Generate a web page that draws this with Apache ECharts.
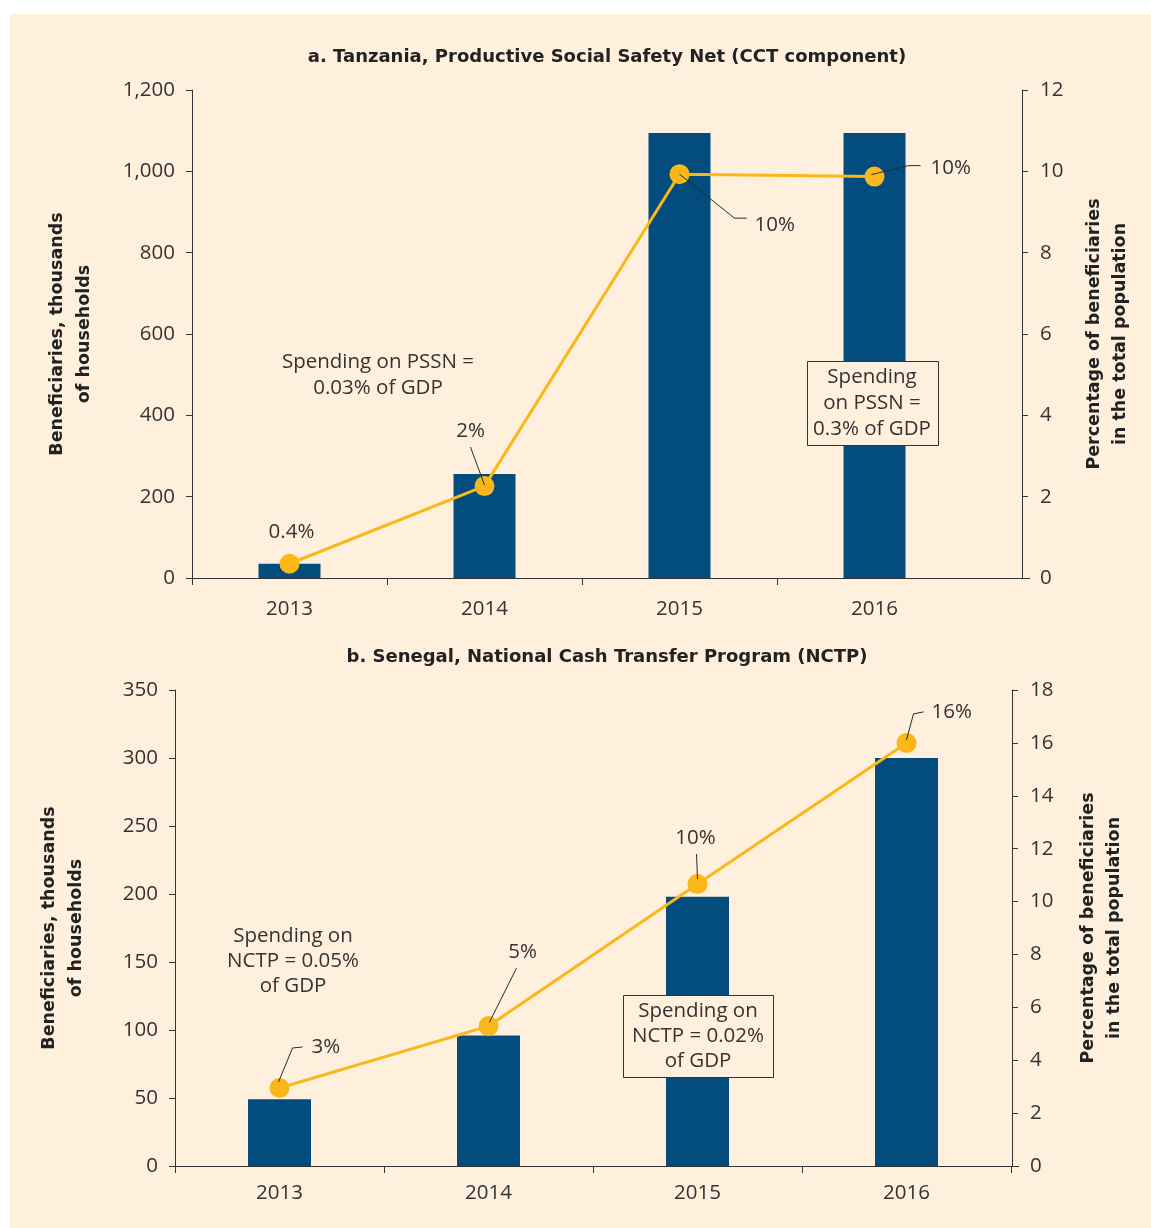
<!DOCTYPE html>
<html>
<head>
<meta charset="utf-8">
<script src="https://cdn.jsdelivr.net/npm/echarts@6/dist/echarts.min.js"></script>
<style>
  html, body { margin: 0; padding: 0; background: #ffffff; }
  #chart { position: absolute; left: 10px; top: 14px; width: 1141px; height: 1214px; }
</style>
</head>
<body>
<div id="chart"></div>
<script>
// data
const years = ['2013', '2014', '2015', '2016'];

const tzHouseholds = [35, 256, 1094, 1094];     // thousands of households
const tzShare = [0.35, 2.26, 9.93, 9.87];        // % of population
const tzShareText = ['0.4%', '2%', '10%', '10%'];

const snHouseholds = [49, 96, 198, 300];
const snShare = [2.95, 5.29, 10.66, 16.0];
const snShareText = ['3%', '5%', '10%', '16%'];

const tzLeftTicks = [0, 1200, 200];   // min, max, step
const tzRightTicks = [0, 12, 2];
const snLeftTicks = [0, 350, 50];
const snRightTicks = [0, 18, 2];

// styles
const BG = '#fef0dc';
const BLUE = '#024c7e';
const GOLD = '#fab719';
const INK = '#333333';
const FONT = '"Open Sans", sans-serif';
const BOLD = '"DejaVu Sans", sans-serif';
const FS = 20.5;

// leader line + label layout, offsets in px from the dot centre
const tzLayout = [
  { text: [2, -32], align: 'center' },
  { path: [[0, -1], [-14, -39]], text: [-14, -55], align: 'center' },
  { path: [[0, 0], [55, 44], [67, 44]], text: [75, 51], align: 'left' },
  { path: [[-3, -2], [34, -11], [46, -11]], text: [56, -8], align: 'left' }
];
const snLayout = [
  { path: [[-1, -6], [13, -40], [23, -41]], text: [32, -41], align: 'left' },
  { path: [[1, -4], [28, -58]], text: [34, -74], align: 'center' },
  { path: [[-1, -30], [0, -5]], text: [-2, -46], align: 'center' },
  { path: [[0, -3], [7, -29], [17, -31]], text: [25, -31], align: 'left' }
];

const chart = echarts.init(document.getElementById('chart'));

function leftAxis(grid, t, gap, margin) {
  return {
    type: 'value', gridIndex: grid, position: 'left',
    min: t[0], max: t[1], interval: t[2],
    name: 'Beneficiaries, thousands\nof households',
    nameLocation: 'middle', nameGap: gap,
    nameTextStyle: { fontFamily: BOLD, fontWeight: 'bold', fontSize: 17.5, lineHeight: 27, color: '#222' },
    splitLine: { show: false },
    axisLine: { show: true, lineStyle: { color: INK, width: 1 } },
    axisTick: { show: true, length: 6, lineStyle: { color: INK } },
    axisLabel: {
      margin: margin, color: INK, fontFamily: FONT, fontSize: FS,
      formatter: v => v.toLocaleString('en-US')
    }
  };
}

function rightAxis(grid, t, gap, offset) {
  return {
    type: 'value', gridIndex: grid, position: 'right', offset: offset,
    min: t[0], max: t[1], interval: t[2],
    name: 'Percentage of beneficiaries\nin the total population',
    nameLocation: 'middle', nameGap: gap,
    nameTextStyle: { fontFamily: BOLD, fontWeight: 'bold', fontSize: 17.5, lineHeight: 26, color: '#222' },
    splitLine: { show: false },
    axisLine: { show: true, lineStyle: { color: INK, width: 1 } },
    axisTick: { show: true, length: 6, lineStyle: { color: INK } },
    axisLabel: { margin: 18, color: INK, fontFamily: FONT, fontSize: FS }
  };
}

function catAxis(grid, margin) {
  return {
    type: 'category', gridIndex: grid, data: years, boundaryGap: true,
    axisLine: { show: true, lineStyle: { color: INK, width: 1 } },
    axisTick: { show: true, length: 7, lineStyle: { color: INK } },
    axisLabel: { margin: margin, color: INK, fontFamily: FONT, fontSize: FS }
  };
}

function leaderSeries(axisIdx, values, texts, layout) {
  return {
    type: 'custom', xAxisIndex: axisIdx, yAxisIndex: axisIdx * 2 + 1, z: 6,
    silent: true,
    data: values.map((v, i) => [i, v]),
    renderItem(params, api) {
      const i = params.dataIndex;
      const p = api.coord([api.value(0), api.value(1)]);
      const L = layout[i];
      const kids = [];
      if (L.path) {
        kids.push({
          type: 'polyline',
          shape: { points: L.path.map(d => [p[0] + d[0], p[1] + d[1]]) },
          style: { stroke: '#2a2a2a', lineWidth: 1, fill: null }
        });
      }
      kids.push({
        type: 'text', x: p[0] + L.text[0], y: p[1] + L.text[1],
        style: {
          text: texts[i], fill: INK, font: FS + 'px ' + FONT,
          align: L.align, verticalAlign: 'middle'
        }
      });
      return { type: 'group', children: kids };
    }
  };
}

function noteText(x, y, text, lh) {
  return {
    type: 'text', x: x, y: y, z: 100,
    style: { text: text, fill: INK, font: FS + 'px ' + FONT, align: 'center', verticalAlign: 'middle', lineHeight: lh }
  };
}

chart.setOption({
  backgroundColor: BG,
  animation: false,
  grid: [
    { left: 182, top: 76, width: 780, height: 488 },
    { left: 165, top: 676, width: 836, height: 476 }
  ],
  xAxis: [catAxis(0, 21), catAxis(1, 17)],
  yAxis: [
    leftAxis(0, tzLeftTicks, 94, 17),
    rightAxis(0, tzRightTicks, 59, 50),
    leftAxis(1, snLeftTicks, 85, 17),
    rightAxis(1, snRightTicks, 63, 1)
  ],
  series: [
    { type: 'bar', xAxisIndex: 0, yAxisIndex: 0, data: tzHouseholds, barWidth: 62, itemStyle: { color: BLUE } },
    {
      type: 'line', xAxisIndex: 0, yAxisIndex: 1, data: tzShare, z: 4,
      symbol: 'circle', symbolSize: 20, showAllSymbol: true,
      lineStyle: { color: GOLD, width: 3 }, itemStyle: { color: GOLD }
    },
    leaderSeries(0, tzShare, tzShareText, tzLayout),
    { type: 'bar', xAxisIndex: 1, yAxisIndex: 2, data: snHouseholds, barWidth: 63, itemStyle: { color: BLUE } },
    {
      type: 'line', xAxisIndex: 1, yAxisIndex: 3, data: snShare, z: 4,
      symbol: 'circle', symbolSize: 20, showAllSymbol: true,
      lineStyle: { color: GOLD, width: 3 }, itemStyle: { color: GOLD }
    },
    leaderSeries(1, snShare, snShareText, snLayout)
  ],
  graphic: [
    {
      type: 'text', x: 597, y: 43, z: 100,
      style: { text: 'a. Tanzania, Productive Social Safety Net (CCT component)', fill: '#222', font: 'bold 18px ' + BOLD, align: 'center', verticalAlign: 'middle' }
    },
    {
      type: 'text', x: 597, y: 643, z: 100,
      style: { text: 'b. Senegal, National Cash Transfer Program (NCTP)', fill: '#222', font: 'bold 18px ' + BOLD, align: 'center', verticalAlign: 'middle' }
    },
    // x-axis line of panel a runs on to the offset right axis (no tick at the grid edge)
    { type: 'rect', z: 99, shape: { x: 959, y: 565, width: 6, height: 9 }, style: { fill: BG } },
    { type: 'line', z: 100, shape: { x1: 962, y1: 564.5, x2: 1020, y2: 564.5 }, style: { stroke: INK, lineWidth: 1 } },
    { type: 'line', z: 100, shape: { x1: 1001, y1: 1152.5, x2: 1009, y2: 1152.5 }, style: { stroke: INK, lineWidth: 1 } },
    noteText(368, 361, 'Spending on PSSN =\n0.03% of GDP', 26),
    { type: 'rect', z: 99, shape: { x: 797.5, y: 347.5, width: 131, height: 84 }, style: { fill: BG, stroke: INK, lineWidth: 1 } },
    noteText(862, 389, 'Spending\non PSSN =\n0.3% of GDP', 26),
    noteText(283, 947, 'Spending on\nNCTP = 0.05%\nof GDP', 25),
    { type: 'rect', z: 99, shape: { x: 613.5, y: 981.5, width: 150, height: 82 }, style: { fill: BG, stroke: INK, lineWidth: 1 } },
    noteText(688, 1022, 'Spending on\nNCTP = 0.02%\nof GDP', 25)
  ]
});
</script>
</body>
</html>
